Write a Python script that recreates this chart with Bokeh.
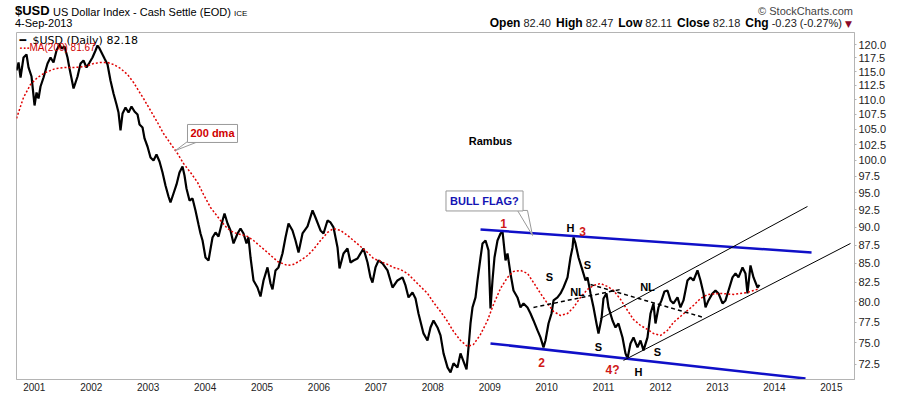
from bokeh.plotting import figure
from bokeh.layouts import column
from bokeh.models import Label, FixedTicker, NumeralTickFormatter, Range1d, Div
from bokeh.embed import file_html
from bokeh.resources import INLINE

# ---------------- data ----------------
price_year = [
    2000.687, 2000.723, 2000.758, 2000.810, 2000.863, 2000.898, 2000.951, 2001.004, 2001.039, 2001.074,
    2001.109, 2001.162, 2001.197, 2001.232, 2001.285, 2001.337, 2001.390, 2001.443, 2001.478, 2001.531,
    2001.583, 2001.618, 2001.654, 2001.689, 2001.724, 2001.759, 2001.812, 2001.864, 2001.917, 2001.970,
    2002.022, 2002.075, 2002.110, 2002.145, 2002.180, 2002.233, 2002.286, 2002.338, 2002.391, 2002.444,
    2002.479, 2002.514, 2002.550, 2002.602, 2002.655, 2002.707, 2002.760, 2002.813, 2002.848, 2002.901,
    2002.936, 2002.988, 2003.041, 2003.094, 2003.146, 2003.199, 2003.252, 2003.304, 2003.357, 2003.392,
    2003.445, 2003.498, 2003.550, 2003.603, 2003.638, 2003.673, 2003.726, 2003.779, 2003.831, 2003.884,
    2003.919, 2003.955, 2004.007, 2004.060, 2004.130, 2004.183, 2004.236, 2004.306, 2004.341, 2004.394,
    2004.446, 2004.499, 2004.570, 2004.622, 2004.675, 2004.727, 2004.762, 2004.798, 2004.850, 2004.920,
    2004.973, 2005.026, 2005.096, 2005.149, 2005.184, 2005.237, 2005.289, 2005.359, 2005.412, 2005.465,
    2005.535, 2005.588, 2005.641, 2005.711, 2005.799, 2005.887, 2005.939, 2006.027, 2006.080, 2006.150,
    2006.203, 2006.256, 2006.326, 2006.361, 2006.431, 2006.501, 2006.554, 2006.607, 2006.677, 2006.730,
    2006.782, 2006.853, 2006.905, 2006.940, 2006.993, 2007.046, 2007.116, 2007.204, 2007.292, 2007.379,
    2007.467, 2007.520, 2007.573, 2007.643, 2007.696, 2007.748, 2007.836, 2007.906, 2007.959, 2008.012,
    2008.082, 2008.135, 2008.188, 2008.258, 2008.311, 2008.363, 2008.433, 2008.486, 2008.539, 2008.592,
    2008.627, 2008.662, 2008.697, 2008.750, 2008.785, 2008.838, 2008.873, 2008.926, 2008.978, 2009.013,
    2009.048, 2009.083, 2009.136, 2009.189, 2009.224, 2009.277, 2009.312, 2009.364, 2009.417, 2009.487,
    2009.540, 2009.593, 2009.663, 2009.716, 2009.768, 2009.839, 2009.891, 2009.944, 2009.979, 2010.032,
    2010.085, 2010.120, 2010.190, 2010.243, 2010.295, 2010.366, 2010.418, 2010.454, 2010.471, 2010.506,
    2010.559, 2010.629, 2010.682, 2010.717, 2010.770, 2010.823, 2010.875, 2010.910, 2010.963, 2010.998,
    2011.051, 2011.086, 2011.156, 2011.209, 2011.261, 2011.332, 2011.384, 2011.420, 2011.472, 2011.525,
    2011.595, 2011.648, 2011.701, 2011.771, 2011.824, 2011.876, 2011.911, 2011.964, 2012.017, 2012.069,
    2012.122, 2012.175, 2012.227, 2012.298, 2012.350, 2012.403, 2012.473, 2012.526, 2012.579, 2012.649,
    2012.702, 2012.755, 2012.790, 2012.842, 2012.913, 2012.965, 2013.018, 2013.088, 2013.141, 2013.194,
    2013.264, 2013.317, 2013.369, 2013.440, 2013.492, 2013.527, 2013.580, 2013.633, 2013.703, 2013.738,
]
price_close = [
    115.19, 116.65, 113.92, 117.57, 118.13, 115.74, 114.10, 109.01, 111.26, 110.22,
    112.32, 113.92, 115.19, 116.46, 117.57, 116.65, 118.87, 120.00, 119.25, 119.62,
    117.57, 115.55, 113.75, 111.97, 113.03, 114.10, 116.46, 117.01, 115.74, 116.65,
    117.57, 118.87, 119.81, 119.25, 118.50, 117.38, 116.28, 113.39, 111.09, 109.18,
    107.81, 104.80, 107.65, 108.67, 107.81, 108.84, 107.98, 107.48, 105.80, 105.30,
    103.49, 102.19, 100.43, 99.96, 100.91, 99.80, 98.09, 96.11, 94.45, 93.57,
    94.90, 96.26, 98.09, 99.02, 97.63, 95.65, 93.86, 94.16, 92.40, 90.38,
    89.11, 88.13, 85.80, 85.40, 88.55, 89.25, 88.69, 90.95, 91.96, 90.52,
    89.53, 87.72, 89.11, 89.81, 89.11, 87.72, 88.55, 85.80, 82.75, 81.84,
    80.69, 82.75, 84.47, 82.36, 81.59, 84.07, 84.47, 86.35, 88.55, 90.52,
    89.53, 88.13, 86.48, 89.11, 90.10, 92.40, 91.38, 89.53, 89.11, 90.95,
    90.67, 89.96, 87.17, 84.33, 86.35, 87.03, 85.13, 85.40, 85.67, 86.35,
    87.03, 85.13, 83.15, 82.49, 84.47, 85.40, 85.00, 84.07, 81.84, 82.75,
    83.15, 82.10, 80.57, 81.20, 80.44, 78.56, 76.13, 75.29, 76.85, 77.70,
    76.85, 75.89, 73.77, 72.16, 71.59, 72.62, 72.16, 73.77, 72.85, 71.93,
    74.47, 77.33, 79.31, 80.57, 82.75, 85.80, 87.72, 88.13, 86.76, 79.18,
    82.75, 85.80, 88.13, 89.11, 89.39, 85.40, 86.35, 83.67, 81.46, 80.57,
    79.31, 79.81, 79.31, 78.56, 77.70, 76.49, 75.65, 74.47, 75.29, 77.33,
    78.56, 80.19, 80.57, 81.08, 81.84, 83.15, 85.80, 87.17, 88.55, 87.72,
    85.80, 84.07, 82.75, 83.15, 81.08, 79.31, 77.33, 76.13, 77.94, 80.44,
    81.08, 79.31, 77.70, 76.85, 77.33, 75.65, 73.77, 73.19, 74.94, 75.65,
    74.47, 75.29, 74.12, 75.65, 78.56, 79.81, 77.33, 79.31, 80.19, 81.33,
    81.46, 80.19, 79.81, 80.57, 79.31, 80.19, 82.75, 83.15, 82.75, 84.07,
    82.75, 81.08, 79.31, 80.19, 81.08, 81.46, 81.08, 79.81, 80.19, 81.46,
    83.15, 83.67, 83.15, 84.47, 83.67, 81.08, 84.73, 83.15, 81.84, 82.18,
]

ma_year = [
    2000.687, 2000.810, 2000.933, 2001.056, 2001.197, 2001.372, 2001.548, 2001.724, 2001.899, 2002.040,
    2002.163, 2002.286, 2002.391, 2002.514, 2002.637, 2002.743, 2002.830, 2002.918, 2003.041, 2003.164,
    2003.269, 2003.392, 2003.515, 2003.621, 2003.744, 2003.867, 2003.972, 2004.095, 2004.271, 2004.394,
    2004.499, 2004.622, 2004.745, 2004.850, 2004.973, 2005.096, 2005.272, 2005.447, 2005.553, 2005.676,
    2005.799, 2005.904, 2006.027, 2006.150, 2006.256, 2006.379, 2006.501, 2006.607, 2006.730, 2006.853,
    2006.958, 2007.081, 2007.204, 2007.309, 2007.432, 2007.555, 2007.660, 2007.783, 2007.906, 2008.012,
    2008.135, 2008.258, 2008.363, 2008.486, 2008.609, 2008.715, 2008.838, 2008.961, 2009.066, 2009.189,
    2009.312, 2009.417, 2009.540, 2009.663, 2009.768, 2009.891, 2010.014, 2010.120, 2010.243, 2010.366,
    2010.471, 2010.594, 2010.717, 2010.823, 2010.945, 2011.068, 2011.174, 2011.297, 2011.420, 2011.525,
    2011.648, 2011.771, 2011.876, 2012.000, 2012.122, 2012.227, 2012.350, 2012.473, 2012.579, 2012.702,
    2012.825, 2013.053, 2013.281, 2013.527, 2013.633, 2013.738,
]
ma_value = [
    106.80, 110.39, 112.68, 113.92, 114.83, 115.55, 115.74, 115.74, 115.92, 116.46,
    116.65, 116.65, 116.28, 115.55, 114.46, 113.03, 111.61, 110.22, 108.15, 106.13,
    104.31, 102.67, 101.07, 99.49, 98.09, 96.57, 94.75, 92.84, 90.95, 89.81,
    89.25, 88.97, 88.69, 88.13, 87.30, 86.48, 85.27, 84.73, 84.87, 85.40,
    86.07, 86.90, 88.13, 89.25, 89.81, 89.53, 88.83, 88.13, 87.30, 86.48,
    85.67, 85.27, 84.87, 84.47, 84.20, 83.67, 82.88, 81.97, 81.08, 79.94,
    78.81, 77.58, 76.37, 75.29, 74.58, 74.82, 76.01, 77.70, 79.69, 81.72,
    83.15, 83.94, 84.07, 83.67, 82.49, 81.08, 79.81, 78.81, 78.31, 78.56,
    79.31, 80.57, 81.59, 82.10, 82.36, 81.97, 81.46, 80.32, 78.93, 77.82,
    77.09, 76.61, 76.13, 75.89, 76.49, 77.46, 78.19, 78.93, 79.56, 80.44,
    80.95, 81.08, 80.95, 81.20, 81.46, 81.67,
]

year_ticks = [2001, 2002, 2003, 2004, 2005, 2006, 2007, 2008, 2009, 2010, 2011, 2012, 2013, 2014, 2015]
price_ticks = [72.5, 75.0, 77.5, 80.0, 82.5, 85.0, 87.5, 90.0, 92.5, 95.0, 97.5, 100.0,
               102.5, 105.0, 107.5, 110.0, 112.5, 115.0, 117.5, 120.0]

# trend lines drawn on the chart (endpoints: year, index value)
flag_top_x = [2008.838, 2014.652]
flag_top_y = [89.67, 86.48]
flag_bot_x = [2009.013, 2014.546]
flag_bot_y = [74.94, 70.91]
up_top_x = [2010.945, 2014.581]
up_top_y = [77.94, 92.98]
up_bot_x = [2011.349, 2015.337]
up_bot_y = [72.96, 87.72]
neck1_x = [2009.768, 2011.297]
neck1_y = [79.31, 81.59]
neck2_x = [2010.770, 2012.755]
neck2_y = [82.23, 78.07]

# pattern marks
red_text = ["1", "2", "3", "4?"]
red_x = [2009.241, 2009.909, 2010.629, 2011.156]
red_y = [90.52, 72.73, 89.39, 71.82]
blk_text = ["H", "H", "S", "S", "S", "S", "NL", "NL"]
blk_x = [2010.418, 2011.613, 2010.050, 2010.717, 2010.910, 2011.946, 2010.541, 2011.771]
blk_y = [89.81, 71.59, 83.15, 84.73, 74.47, 73.88, 81.20, 81.84]

# callouts
bull_x, bull_y = 2008.908, 93.79
bull_ptr_x = [2009.487, 2009.663, 2009.751]
bull_ptr_y = [92.40, 92.40, 88.83]
dma_x, dma_y = 2004.130, 104.31
dma_ptr_x = [2003.691, 2003.884, 2003.480]
dma_ptr_y = [103.00, 103.00, 101.55]
rambus_x, rambus_y = 2009.013, 103.0

# quote header
quote_labels = ["Open", "High", "Low", "Close", "Chg"]
quote_values = ["82.40", "82.47", "82.11", "82.18", "-0.23 (-0.27%)"]

FONT = "Liberation Sans"
GRAY = "#b4b4b4"

# ---------------- header strip (HTML text) ----------------
gap = '<span style="display:inline-block;width:5px;"></span>'
quote_html = gap.join(
    f'<b style="font-size:12px">{k}</b> <span style="color:#222">{v}</span>'
    for k, v in zip(quote_labels, quote_values))
header_html = f"""
<div style="position:relative;width:900px;height:32px;overflow:hidden;
            font-family:'Liberation Sans',Arial,sans-serif;color:#000;line-height:14px;">
  <span style="position:absolute;left:15px;top:3px;font-size:13px;font-weight:bold;line-height:16px;">$USD</span>
  <span style="position:absolute;left:53px;top:4.5px;font-size:11px;white-space:nowrap;">US Dollar Index - Cash Settle (EOD)
    <span style="font-size:8px;">ICE</span></span>
  <span style="position:absolute;left:15px;top:15.5px;font-size:11px;">4-Sep-2013</span>
  <span style="position:absolute;right:47px;top:4px;font-size:11px;color:#444;white-space:nowrap;">&copy; StockCharts.com</span>
  <span style="position:absolute;right:48px;top:15.5px;font-size:11px;white-space:nowrap;">{quote_html}
    <span style="color:#8b0a2a;font-size:9px;font-family:'DejaVu Sans';">&#9660;</span></span>
</div>
"""
h = Div(text=header_html, width=900, height=32, margin=0)

# ---------------- main chart ----------------
p = figure(width=900, height=364,
           x_range=Range1d(2000.687, 2015.407), y_range=Range1d(70.80, 122.29),
           y_axis_type="log", y_axis_location="right",
           output_backend="svg", toolbar_location=None,
           min_border_left=16, min_border_right=46, min_border_top=0, min_border_bottom=17)
p.background_fill_color = "white"
p.border_fill_color = "white"
p.outline_line_color = GRAY
p.grid.visible = False

xa = p.xaxis[0]
xa.ticker = FixedTicker(ticks=year_ticks)
xa.formatter = NumeralTickFormatter(format="0")
xa.major_tick_line_color = None
xa.minor_tick_line_color = None
xa.major_tick_out = 0
xa.major_tick_in = 0
xa.axis_line_color = GRAY
xa.major_label_text_font = FONT
xa.major_label_text_font_size = "10px"
xa.major_label_text_color = "#222222"
xa.major_label_standoff = 3

ya = p.yaxis[0]
ya.ticker = FixedTicker(ticks=price_ticks)
ya.formatter = NumeralTickFormatter(format="0.0")
ya.major_tick_out = 2
ya.major_tick_in = 0
ya.major_tick_line_color = GRAY
ya.minor_tick_line_color = None
ya.axis_line_color = GRAY
ya.major_label_text_font = FONT
ya.major_label_text_font_size = "11px"
ya.major_label_text_color = "#222222"
ya.major_label_standoff = 2

# series
p.line(price_year, price_close, color="black", line_width=2.2)
p.line(ma_year, ma_value, color="#e00000", line_width=1.5, line_dash="2 2")

# trend lines
p.line(flag_top_x, flag_top_y, color="#1010c8", line_width=2.5)
p.line(flag_bot_x, flag_bot_y, color="#1010c8", line_width=2.5)
p.line(up_top_x, up_top_y, color="black", line_width=1)
p.line(up_bot_x, up_bot_y, color="black", line_width=1)
p.line(neck1_x, neck1_y, color="black", line_width=1.5, line_dash="4 3")
p.line(neck2_x, neck2_y, color="black", line_width=1.5, line_dash="4 3")

# callout pointers
p.patch(bull_ptr_x, bull_ptr_y, fill_color="white", line_color="#999999", line_width=1)
p.patch(dma_ptr_x, dma_ptr_y, fill_color="white", line_color="#999999", line_width=1)


def data_label(text, x, y, color, size="11px", **kw):
    p.add_layout(Label(x=x, y=y, text=text, text_font=FONT, text_font_size=size,
                       text_font_style="bold", text_color=color, text_align="center",
                       text_baseline="middle", **kw))


for t, x, y in zip(red_text, red_x, red_y):
    data_label(t, x, y, "#d01818", "12px")
for t, x, y in zip(blk_text, blk_x, blk_y):
    data_label(t, x, y, "black")
data_label("Rambus", rambus_x, rambus_y, "black")
data_label("BULL FLAG?", bull_x, bull_y, "#1414b4", background_fill_color="white",
           border_line_color="#999999", padding=4)
data_label("200 dma", dma_x, dma_y, "#d00000", background_fill_color="white",
           border_line_color="#999999", padding=3)

# legend inside the frame (frame: left at 16px, bottom at 379px of the page)
FRAME_LEFT, FRAME_BOTTOM = 16, 379


def legend_label(text, px, py, size, bold=False, color="black", font=FONT):
    p.add_layout(Label(x=px - FRAME_LEFT, y=FRAME_BOTTOM - py, x_units="screen", y_units="screen",
                       text=text, text_font=font, text_font_size=size,
                       text_font_style="bold" if bold else "normal", text_color=color,
                       text_align="left", text_baseline="alphabetic"))


legend_label("\u2501", 19, 39.5, "11px", font="DejaVu Sans")
legend_label("$USD (Daily) 82.18", 32, 39.5, "11px", font="DejaVu Sans")
legend_label("\u00b7\u00b7\u00b7", 19, 47, "11px", bold=True, color="#e00000")
legend_label("MA(200) 81.67", 29, 47, "10px", color="#d00000")

layout = column(h, p, spacing=0)
open("out.html", "w").write(file_html(layout, INLINE))
